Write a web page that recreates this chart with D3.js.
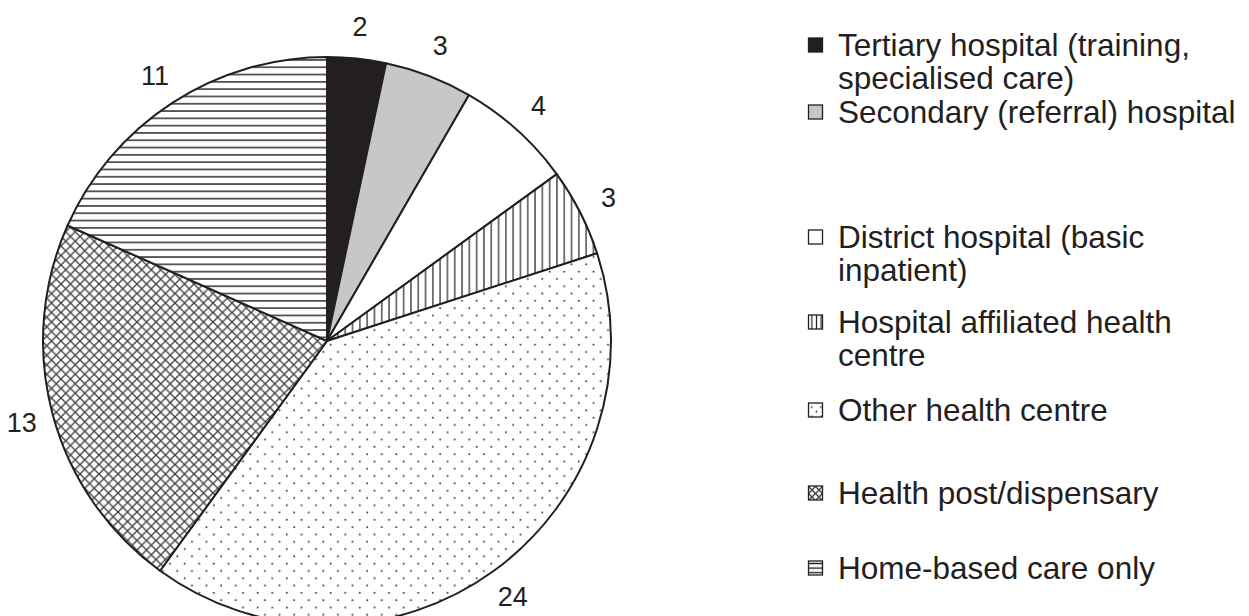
<!DOCTYPE html>
<html><head><meta charset="utf-8">
<script src="https://cdn.jsdelivr.net/npm/d3@7"></script>
<style>body{margin:0;background:#fff;overflow:hidden}</style>
</head><body>
<svg id="chart" width="1249" height="616"></svg>
<script>
// ---- data ----
const categories = [
  "Tertiary hospital (training, specialised care)",
  "Secondary (referral) hospital",
  "District hospital (basic inpatient)",
  "Hospital affiliated health centre",
  "Other health centre",
  "Health post/dispensary",
  "Home-based care only"
];
const legendLines = [
  ["Tertiary hospital (training,", "specialised care)"],
  ["Secondary (referral) hospital"],
  ["District hospital (basic", "inpatient)"],
  ["Hospital affiliated health", "centre"],
  ["Other health centre"],
  ["Health post/dispensary"],
  ["Home-based care only"]
];
const values = [2, 3, 4, 3, 24, 13, 11];
const fillKeys = ["dark", "gray", "white", "vlines", "dots", "cross", "hlines"];

// ---- layout ----
const cx = 327, cy = 341, R = 284, labelR = 316;
const legendX = 808, legendTextX = 838, legendLineH = 33;
const legendY = [45, 112, 237, 322, 410, 493, 568];
const ink = "#231f20";
const font = "Liberation Sans, Arial, sans-serif";

const svg = d3.select("#chart");
const defs = svg.append("defs");

function makePatterns(prefix, s, sc) {
  let p = defs.append("pattern").attr("id", prefix + "vlines").attr("patternUnits", "userSpaceOnUse")
    .attr("width", s).attr("height", s);
  p.append("rect").attr("width", s).attr("height", s).attr("fill", "#fff");
  p.append("line").attr("x1", s/2).attr("x2", s/2).attr("y1", 0).attr("y2", s).attr("stroke", ink).attr("stroke-width", 1.2);

  p = defs.append("pattern").attr("id", prefix + "hlines").attr("patternUnits", "userSpaceOnUse")
    .attr("width", s).attr("height", s);
  p.append("rect").attr("width", s).attr("height", s).attr("fill", "#fff");
  p.append("line").attr("y1", s/2).attr("y2", s/2).attr("x1", 0).attr("x2", s).attr("stroke", ink).attr("stroke-width", 1.4);

  p = defs.append("pattern").attr("id", prefix + "dots").attr("patternUnits", "userSpaceOnUse")
    .attr("width", 2*s).attr("height", 2*s);
  p.append("rect").attr("width", 2*s).attr("height", 2*s).attr("fill", "#fff");
  p.append("circle").attr("cx", s/2).attr("cy", s/2).attr("r", 0.95).attr("fill", "#333");
  p.append("circle").attr("cx", s*1.5).attr("cy", s*1.5).attr("r", 0.95).attr("fill", "#333");

  p = defs.append("pattern").attr("id", prefix + "cross").attr("patternUnits", "userSpaceOnUse")
    .attr("width", sc).attr("height", sc);
  p.append("rect").attr("width", sc).attr("height", sc).attr("fill", "#fff");
  p.append("path").attr("d", `M0,0L${sc},${sc}M${sc},0L0,${sc}`)
    .attr("stroke", "#444").attr("stroke-width", 1.4).attr("fill", "none");
}
makePatterns("p-", 7.3, 9.5);
makePatterns("l-", 4.6, 7);

function fillFor(key, prefix) {
  if (key === "dark") return ink;
  if (key === "gray") return "#c6c7c8";
  if (key === "white") return "#fff";
  return `url(#${prefix}${key})`;
}

const pie = d3.pie().sort(null).value(d => d)(values);
const arc = d3.arc().innerRadius(0).outerRadius(R);
const labelArc = d3.arc().innerRadius(labelR).outerRadius(labelR);

const g = svg.append("g").attr("transform", `translate(${cx},${cy})`);
g.selectAll("path.slice").data(pie).join("path")
  .attr("class", "slice")
  .attr("d", arc)
  .attr("fill", (d, i) => fillFor(fillKeys[i], "p-"))
  .attr("stroke", ink).attr("stroke-width", 2).attr("stroke-linejoin", "round");

g.selectAll("text.lbl").data(pie).join("text")
  .attr("class", "lbl")
  .attr("transform", d => `translate(${labelArc.centroid(d)})`)
  .attr("text-anchor", "middle").attr("dominant-baseline", "central")
  .attr("font-family", font).attr("font-size", 27)
  .attr("fill", ink)
  .text(d => d.data);

// legend
const lg = svg.append("g");
categories.forEach((c, i) => {
  const y = legendY[i];
  lg.append("rect").attr("x", legendX + 0.5).attr("y", y - 7).attr("width", 14).attr("height", 14)
    .attr("fill", fillFor(fillKeys[i], "l-")).attr("stroke", ink).attr("stroke-width", 1.3);
  const t = lg.append("text").attr("font-family", font)
    .attr("font-size", 31.5).attr("fill", ink);
  legendLines[i].forEach((line, j) => {
    t.append("tspan").attr("x", legendTextX).attr("y", y + j * legendLineH)
      .attr("dominant-baseline", "central").text(line);
  });
});
</script>
</body></html>
